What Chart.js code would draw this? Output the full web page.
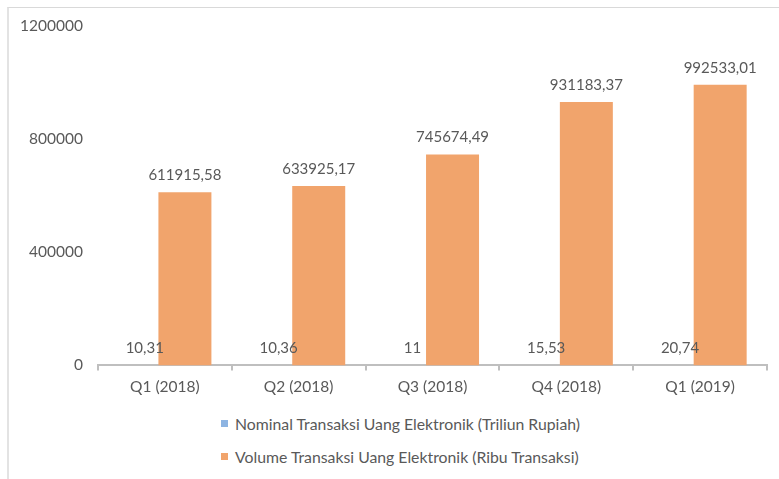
<!DOCTYPE html>
<html>
<head>
<meta charset="utf-8">
<script src="https://cdn.jsdelivr.net/npm/chart.js@4/dist/chart.umd.min.js"></script>
<style>
  html, body { margin:0; padding:0; background:#fff; overflow:hidden; }
  body { width:779px; height:479px; position:relative; font-family:Lato, sans-serif; }
  #frame { position:absolute; left:7px; top:7px; width:800px; height:500px; border-top:1px solid #d9d9d9; border-left:2px solid #e3e3e3; }
  #wrap { position:absolute; left:0; top:0; width:779px; height:410px; }
  #legend { position:absolute; left:221px; top:412px; color:#595959; font-size:15.8px; }
  .lg-item { display:flex; align-items:center; height:22px; margin-bottom:11px; }
  .lg-box { width:7px; height:7px; margin-right:7px; }
</style>
</head>
<body>
<div id="frame"></div>
<div id="wrap"><canvas id="chart"></canvas></div>
<div id="legend"></div>
<script>
const categories = ['Q1 (2018)', 'Q2 (2018)', 'Q3 (2018)', 'Q4 (2018)', 'Q1 (2019)'];
const nominal = [10.31, 10.36, 11, 15.53, 20.74];
const volume = [611915.58, 633925.17, 745674.49, 931183.37, 992533.01];
const yTicks = [0, 400000, 800000, 1200000];
const seriesNames = ['Nominal Transaksi Uang Elektronik (Triliun Rupiah)', 'Volume Transaksi Uang Elektronik (Ribu Transaksi)'];
const seriesColors = ['#8db4e2', '#f1a46c'];

Chart.defaults.font.family = 'Lato, sans-serif';
Chart.defaults.color = '#595959';

// value labels above each bar, decimal comma like the source
const barLabels = {
  id: 'barLabels',
  afterDatasetsDraw(chart) {
    const ctx = chart.ctx;
    ctx.save();
    ctx.font = '15px Lato, sans-serif';
    ctx.fillStyle = '#595959';
    ctx.textAlign = 'center';
    ctx.textBaseline = 'middle';
    chart.data.datasets.forEach((ds, i) => {
      chart.getDatasetMeta(i).data.forEach((bar, j) => {
        ctx.fillText(String(ds.data[j]).replace('.', ','), bar.x, bar.y - 17);
      });
    });
    ctx.restore();
  }
};

new Chart(document.getElementById('chart'), {
  type: 'bar',
  data: {
    labels: categories,
    datasets: [
      { label: seriesNames[0], data: nominal, backgroundColor: seriesColors[0] },
      { label: seriesNames[1], data: volume, backgroundColor: seriesColors[1] }
    ]
  },
  options: {
    responsive: true, maintainAspectRatio: false, animation: false,
    categoryPercentage: 0.6, barPercentage: 1.32,
    layout: { padding: { left: 5, right: 12, top: 26, bottom: 7 } },
    plugins: { legend: { display: false }, tooltip: { enabled: false } },
    scales: {
      x: {
        grid: { display: true, drawOnChartArea: false, drawTicks: true, tickLength: 5, color: '#bfbfbf', lineWidth: 2 },
        border: { display: true, color: '#bfbfbf', width: 2 },
        ticks: { padding: 7, font: { size: 15.5 }, color: '#595959' }
      },
      y: {
        min: 0, max: 1200000,
        afterBuildTicks: s => { s.ticks = yTicks.map(v => ({ value: v })); },
        grid: { display: false, drawTicks: false },
        border: { display: false },
        ticks: { padding: 15, font: { size: 15.5 }, color: '#595959', callback: v => String(v) }
      }
    }
  },
  plugins: [barLabels]
});

document.getElementById('legend').innerHTML = seriesNames.map((n, i) =>
  `<div class="lg-item"><span class="lg-box" style="background:${seriesColors[i]}"></span>${n}</div>`).join('');
</script>
</body>
</html>
